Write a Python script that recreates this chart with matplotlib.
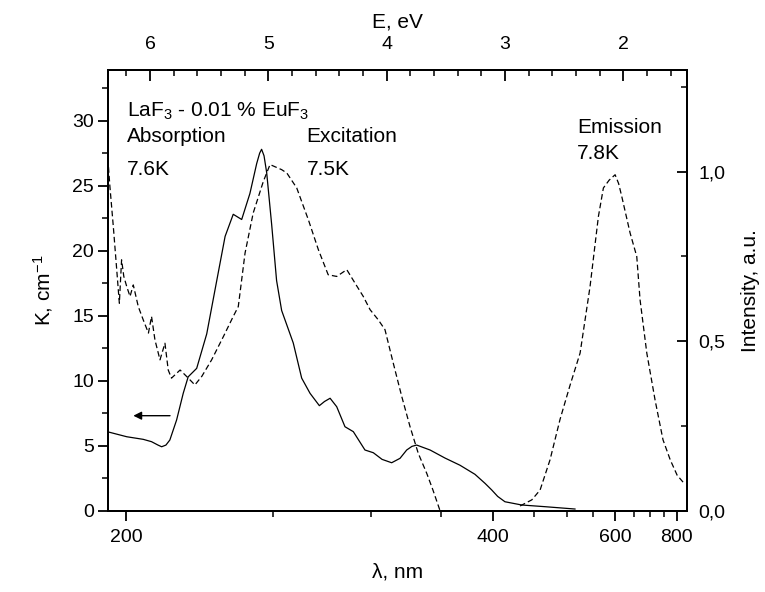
import matplotlib
matplotlib.use('Agg')
import matplotlib.pyplot as plt
from matplotlib.ticker import FixedLocator, MultipleLocator, FuncFormatter
import numpy as np

plt.rcParams['font.family'] = ['Liberation Sans', 'DejaVu Sans']
plt.rcParams['mathtext.fontset'] = 'custom'
plt.rcParams['mathtext.rm'] = 'Liberation Sans'
plt.rcParams['mathtext.it'] = 'Liberation Sans:italic'
plt.rcParams['mathtext.default'] = 'regular'

HC = 1239.84  # eV*nm

# absorption, 7.6 K (left axis)
abs_lam = [194.9, 200.1, 204.7, 207.1, 209.0, 210.1, 211.4, 212.6, 214.7, 216.8,
           218.4, 221.2, 224.6, 228.1, 231.1, 234.1, 237.3, 240.5, 243.2, 244.4,
           245.2, 246.2, 247.3, 249.4, 251.5, 253.7, 258.9, 262.8, 266.8, 271.4,
           274.0, 276.9, 280.4, 284.9, 289.6, 296.4, 301.5, 307.0, 313.3, 319.0,
           323.7, 327.5, 331.0, 341.3, 353.6, 366.8, 381.1, 391.4, 398.4, 405.0,
           413.3, 433.8, 465.9, 514.9]
abs_k = [6.08, 5.69, 5.49, 5.31, 5.05, 4.92, 5.05, 5.44, 6.98, 9.03,
         10.3, 10.95, 13.6, 17.7, 21.1, 22.8, 22.4, 24.4, 26.7, 27.5,
         27.8, 27.3, 26.0, 22.0, 17.7, 15.4, 12.9, 10.2, 9.03, 8.08,
         8.4, 8.65, 8.0, 6.46, 6.08, 4.67, 4.46, 3.95, 3.69, 4.03,
         4.67, 4.95, 5.05, 4.67, 4.05, 3.5, 2.8, 2.1, 1.6, 1.1,
         0.69, 0.44, 0.31, 0.13]

# excitation, 7.5 K (right axis)
exc_lam = [194.9, 195.6, 196.5, 197.4, 198.1, 198.7, 199.3, 200.1, 201.0, 201.9,
           203.3, 204.7, 206.2, 207.1, 208.1, 209.6, 211.1, 212.1, 213.1, 215.8,
           217.9, 220.6, 222.9, 226.3, 230.5, 234.1, 236.0, 238.6, 241.8, 245.9,
           248.7, 253.7, 256.0, 260.5, 262.8, 266.0, 270.9, 275.9, 280.4, 285.9,
           290.6, 295.4, 299.5, 304.6, 308.9, 314.4, 320.2, 326.1, 332.2, 338.7,
           343.6, 349.4]
exc_int = [1.065, 0.957, 0.838, 0.711, 0.612, 0.740, 0.691, 0.661, 0.632, 0.666,
           0.602, 0.563, 0.524, 0.573, 0.504, 0.445, 0.494, 0.415, 0.391, 0.415,
           0.396, 0.371, 0.396, 0.445, 0.514, 0.573, 0.602, 0.760, 0.878, 0.971,
           1.021, 1.006, 0.996, 0.952, 0.912, 0.858, 0.770, 0.696, 0.691, 0.711,
           0.671, 0.632, 0.593, 0.563, 0.534, 0.435, 0.337, 0.248, 0.169, 0.110,
           0.061, 0.0]

# emission, 7.8 K (right axis)
emi_lam = [431.7, 447.1, 458.7, 473.4, 489.3, 506.1, 524.3, 543.6, 561.0, 571.9,
           585.0, 599.3, 608.0, 616.0, 638.4, 657.4, 667.3, 688.4, 716.3, 745.1,
           773.5, 802.5, 829.9]
emi_int = [0.014, 0.032, 0.061, 0.15, 0.27, 0.37, 0.465, 0.661, 0.868, 0.952,
           0.975, 0.991, 0.965, 0.927, 0.819, 0.75, 0.622, 0.465, 0.326, 0.209,
           0.15, 0.105, 0.084]

lam_major = [200, 400, 600, 800]
lam_minor = [250, 300, 350, 450, 500, 550, 650, 700, 750]
ev_major = [6, 5, 4, 3, 2]


def to_ev(lam):
    return HC / np.asarray(lam, dtype=float)


fig = plt.figure(figsize=(7.65, 5.92), dpi=100)
ax = fig.add_axes([0.1408, 0.1373, 0.7576, 0.7445])
ax2 = ax.twinx()

ax.plot(to_ev(abs_lam), abs_k, color='black', lw=0.9)
dash = (0, (4.5, 2.5))
ax2.plot(to_ev(exc_lam), exc_int, color='black', lw=0.9, linestyle=dash)
ax2.plot(to_ev(emi_lam), emi_int, color='black', lw=0.9, linestyle=dash)

ax.set_xlim(6.357, 1.459)
ax.set_ylim(0, 33.9)
ax2.set_ylim(0, 1.30)

fs_tick = 14
fs_text = 15

# bottom axis: wavelength ticks placed on the energy scale
ax.xaxis.set_major_locator(FixedLocator(to_ev(lam_major)))
ax.xaxis.set_minor_locator(FixedLocator(to_ev(lam_minor)))
ax.set_xticklabels([str(l) for l in lam_major])
ax.tick_params(axis='x', which='major', direction='out', length=7, width=1.3,
               labelsize=fs_tick, pad=6, top=False)
ax.tick_params(axis='x', which='minor', direction='out', length=4, width=1.1, top=False)
ax.set_xlabel('λ, nm', fontsize=fs_text, labelpad=12)

# left axis
ax.yaxis.set_major_locator(MultipleLocator(5))
ax.yaxis.set_minor_locator(MultipleLocator(2.5))
ax.tick_params(axis='y', which='major', direction='out', length=7, width=1.3,
               labelsize=fs_tick, pad=3)
ax.tick_params(axis='y', which='minor', direction='out', length=4, width=1.1)
ax.set_ylabel('K, cm$^{-1}$', fontsize=fs_text, labelpad=12)

# right axis
ax2.yaxis.set_major_locator(MultipleLocator(0.5))
ax2.yaxis.set_minor_locator(MultipleLocator(0.25))
ax2.yaxis.set_major_formatter(FuncFormatter(lambda v, p: f'{v:.1f}'.replace('.', ',')))
ax2.tick_params(axis='y', which='major', direction='in', length=7, width=1.3,
                labelsize=fs_tick, pad=8)
ax2.tick_params(axis='y', which='minor', direction='in', length=4, width=1.1)
ax2.set_ylabel('Intensity, a.u.', fontsize=fs_text, labelpad=11)

# top axis: energy
top = ax.secondary_xaxis('top')
top.xaxis.set_major_locator(FixedLocator(ev_major))
top.xaxis.set_minor_locator(MultipleLocator(0.2))
top.tick_params(which='major', direction='in', length=8, width=1.3,
                labelsize=fs_tick, pad=12)
top.tick_params(which='minor', direction='in', length=4, width=1.1)
top.set_xlabel('E, eV', fontsize=fs_text, labelpad=6)

for a in (ax, ax2):
    for s in a.spines.values():
        s.set_linewidth(1.4)
top.spines['top'].set_linewidth(1.4)

# annotations
ax.text(0.0328, 0.894, 'LaF$_3$ - 0.01 % EuF$_3$', transform=ax.transAxes,
        fontsize=fs_text, va='baseline')
ax.text(0.0328, 0.8365, 'Absorption', transform=ax.transAxes, fontsize=fs_text, va='baseline')
ax.text(0.0328, 0.7617, '7.6K', transform=ax.transAxes, fontsize=fs_text, va='baseline')
ax.text(0.3433, 0.8365, 'Excitation', transform=ax.transAxes, fontsize=fs_text, va='baseline')
ax.text(0.3433, 0.7617, '7.5K', transform=ax.transAxes, fontsize=fs_text, va='baseline')
ax.text(0.810, 0.856, 'Emission', transform=ax.transAxes, fontsize=fs_text, va='baseline')
ax.text(0.810, 0.797, '7.8K', transform=ax.transAxes, fontsize=fs_text, va='baseline')

ax.annotate('', xy=(0.0442, 0.2156), xytext=(0.1075, 0.2156),
            xycoords='axes fraction', textcoords='axes fraction',
            arrowprops=dict(arrowstyle='-|>', color='black', lw=1.0,
                            mutation_scale=12, shrinkA=0, shrinkB=0))

fig.savefig('out.png', dpi=100, facecolor='white')
